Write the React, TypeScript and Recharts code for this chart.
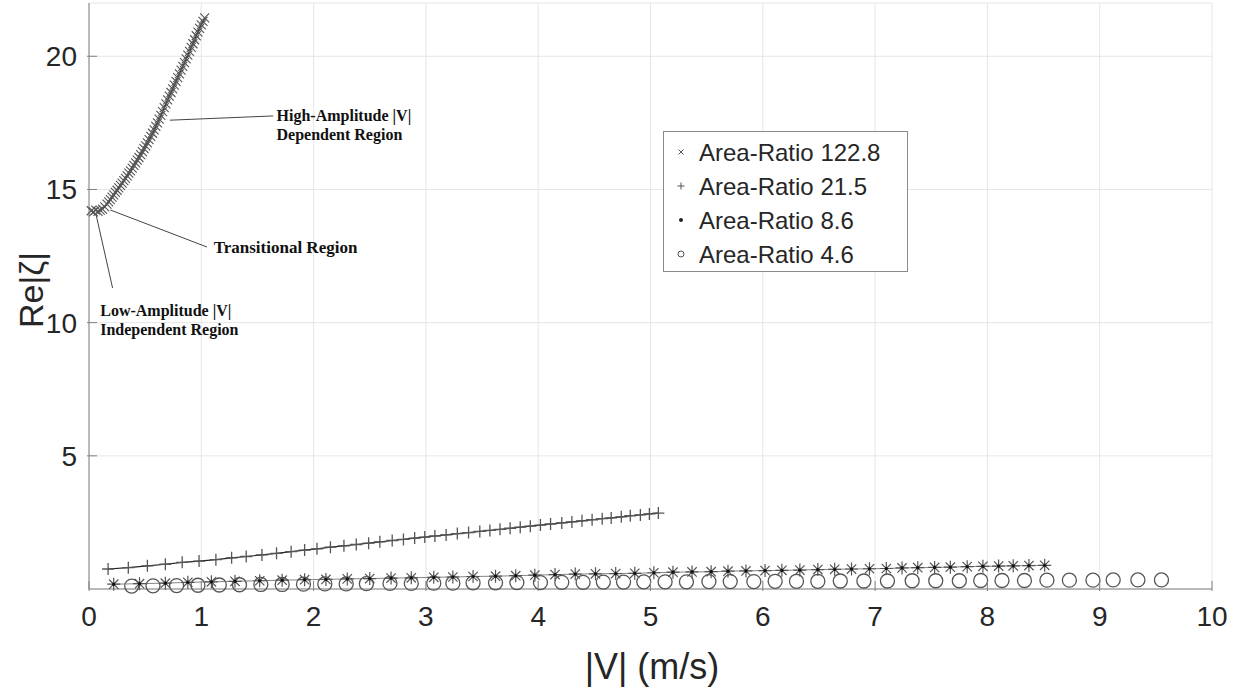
import { ScatterChart, Scatter, XAxis, YAxis, CartesianGrid, Legend, Label, ReferenceLine, ReferenceDot } from "recharts";

const speedTicks = [0, 1, 2, 3, 4, 5, 6, 7, 8, 9, 10];
const reTicks = [5, 10, 15, 20];

// Area-Ratio 122.8
const v1228 = [
  0.02, 0.04, 0.06, 0.08, 0.1, 0.12, 0.14,
  0.16, 0.175, 0.19, 0.205, 0.22, 0.235, 0.25, 0.265, 0.28, 0.295, 0.31, 0.325, 0.34, 0.355,
  0.37, 0.385, 0.4, 0.415, 0.43, 0.445, 0.46, 0.475, 0.49, 0.505, 0.52, 0.535, 0.55, 0.565,
  0.58, 0.595, 0.61, 0.625, 0.64, 0.655, 0.67, 0.685, 0.7, 0.715, 0.73, 0.745, 0.76, 0.775,
  0.79, 0.805, 0.82, 0.835, 0.85, 0.865, 0.88, 0.895, 0.91, 0.925, 0.94, 0.955, 0.97, 0.985,
  1.0, 1.015, 1.03,
];
const re1228 = [
  14.2, 14.16, 14.22, 14.18, 14.22, 14.26, 14.35,
  14.45, 14.53, 14.62, 14.71, 14.8, 14.89, 14.97, 15.06, 15.15, 15.24, 15.33, 15.42, 15.51, 15.61,
  15.7, 15.8, 15.9, 16.0, 16.1, 16.2, 16.31, 16.42, 16.53, 16.64, 16.75, 16.87, 16.99, 17.11,
  17.24, 17.37, 17.5, 17.64, 17.78, 17.92, 18.07, 18.21, 18.36, 18.5, 18.64, 18.78, 18.92, 19.06,
  19.2, 19.34, 19.48, 19.62, 19.76, 19.9, 20.04, 20.18, 20.33, 20.47, 20.62, 20.77, 20.91, 21.05,
  21.18, 21.31, 21.44,
];

// Area-Ratio 21.5
const v215 = [
  0.17, 0.35, 0.52, 0.68, 0.83, 0.98, 1.13, 1.27, 1.4, 1.54, 1.67, 1.8, 1.92, 2.03, 2.15, 2.27,
  2.38, 2.49, 2.59, 2.7, 2.8, 2.9, 2.99, 3.08, 3.18, 3.28, 3.38, 3.48, 3.57, 3.66, 3.75, 3.84,
  3.93, 4.02, 4.11, 4.21, 4.3, 4.39, 4.48, 4.57, 4.65, 4.74, 4.82, 4.91, 4.99, 5.07,
];
const re215 = [
  0.75, 0.8, 0.87, 0.93, 1.0, 1.05, 1.1, 1.17, 1.22, 1.28, 1.34, 1.4, 1.46, 1.51, 1.57, 1.62,
  1.67, 1.72, 1.77, 1.82, 1.86, 1.91, 1.95, 1.99, 2.03, 2.08, 2.12, 2.16, 2.2, 2.24, 2.28, 2.32,
  2.36, 2.4, 2.44, 2.48, 2.52, 2.56, 2.6, 2.64, 2.67, 2.71, 2.75, 2.78, 2.82, 2.85,
];

// Area-Ratio 8.6
const v86 = [
  0.22, 0.45, 0.68, 0.88, 1.09, 1.3, 1.52, 1.72, 1.92, 2.11, 2.3, 2.5, 2.69, 2.87, 3.07, 3.24,
  3.42, 3.62, 3.8, 3.97, 4.15, 4.33, 4.51, 4.69, 4.86, 5.03, 5.2, 5.37, 5.54, 5.69, 5.85, 6.02,
  6.17, 6.33, 6.49, 6.64, 6.79, 6.95, 7.1, 7.24, 7.38, 7.53, 7.67, 7.82, 7.96, 8.1, 8.23, 8.37,
  8.51,
];
const re86 = [
  0.18, 0.2, 0.22, 0.25, 0.27, 0.29, 0.31, 0.33, 0.35, 0.36, 0.38, 0.39, 0.41, 0.42, 0.44, 0.45,
  0.47, 0.48, 0.5, 0.52, 0.54, 0.56, 0.57, 0.58, 0.59, 0.61, 0.63, 0.64, 0.65, 0.67, 0.68, 0.69,
  0.7, 0.71, 0.73, 0.74, 0.75, 0.76, 0.77, 0.79, 0.8, 0.81, 0.82, 0.84, 0.85, 0.86, 0.87, 0.88,
  0.89,
];

// Area-Ratio 4.6
const v46 = [
  0.38, 0.57, 0.78, 0.97, 1.16, 1.34, 1.53, 1.72, 1.91, 2.1, 2.29, 2.47, 2.68, 2.87, 3.07, 3.24,
  3.42, 3.62, 3.81, 4.02, 4.21, 4.4, 4.58, 4.76, 4.94, 5.13, 5.32, 5.52, 5.71, 5.92, 6.11, 6.3,
  6.49, 6.69, 6.9, 7.11, 7.33, 7.54, 7.75, 7.94, 8.13, 8.33, 8.53, 8.73, 8.94, 9.12, 9.34, 9.55,
];
const re46 = [
  0.11, 0.12, 0.13, 0.14, 0.15, 0.16, 0.17, 0.17, 0.18, 0.19, 0.19, 0.2, 0.21, 0.21, 0.22, 0.22,
  0.23, 0.23, 0.24, 0.24, 0.25, 0.25, 0.26, 0.26, 0.27, 0.27, 0.27, 0.28, 0.28, 0.28, 0.29, 0.29,
  0.29, 0.3, 0.3, 0.3, 0.31, 0.31, 0.31, 0.32, 0.32, 0.32, 0.33, 0.33, 0.33, 0.34, 0.34, 0.34,
];

const seriesNames = ["Area-Ratio 122.8", "Area-Ratio 21.5", "Area-Ratio 8.6", "Area-Ratio 4.6"];

const toPoints = (v: number[], re: number[]) => v.map((x, i) => ({ x, y: re[i] }));

const SANS = "'Liberation Sans', Arial, sans-serif";
const SERIF = "'Liberation Serif', 'Times New Roman', serif";
const INK = "#262626";
const AXIS = "#808080";

// marker glyphs
const xMark = (cx: number, cy: number, r: number) =>
  `M${cx - r},${cy - r}L${cx + r},${cy + r}M${cx - r},${cy + r}L${cx + r},${cy - r}`;
const plusMark = (cx: number, cy: number, r: number) =>
  `M${cx - r},${cy}L${cx + r},${cy}M${cx},${cy - r}L${cx},${cy + r}`;
const starMark = (cx: number, cy: number, r: number) => {
  const d = r * 0.72;
  return `${plusMark(cx, cy, r)}M${cx - d},${cy - d}L${cx + d},${cy + d}M${cx - d},${cy + d}L${cx + d},${cy - d}`;
};

const XShape = (p: any) => <path d={xMark(p.cx, p.cy, 4.5)} stroke="#555" strokeWidth={1.1} fill="none" />;
const PlusShape = (p: any) => <path d={plusMark(p.cx, p.cy, 6)} stroke="#555" strokeWidth={1.3} fill="none" />;
const StarShape = (p: any) => (
  <g>
    <path d={starMark(p.cx, p.cy, 6.5)} stroke="#555" strokeWidth={1.2} fill="none" />
    <circle cx={p.cx} cy={p.cy} r={1.6} fill="#111" />
  </g>
);
const CircleShape = (p: any) => <circle cx={p.cx} cy={p.cy} r={7} stroke="#555" strokeWidth={1.3} fill="none" />;

const XTick = (p: any) => (
  <g>
    <line x1={p.x} y1={p.y} x2={p.x} y2={p.y - 10} stroke={AXIS} strokeWidth={1} />
    <text x={p.x} y={p.y + 35} textAnchor="middle" fontFamily={SANS} fontSize={28} fill={INK}>
      {p.payload.value}
    </text>
  </g>
);

const YTick = (p: any) => (
  <g>
    <line x1={p.x} y1={p.y} x2={p.x + 10} y2={p.y} stroke={AXIS} strokeWidth={1} />
    <text x={p.x - 10} y={p.y + 10} textAnchor="end" fontFamily={SANS} fontSize={28} fill={INK}>
      {p.payload.value}
    </text>
  </g>
);

const legendGlyphs = [
  (cx: number, cy: number) => <path d={xMark(cx, cy, 2.5)} stroke="#555" strokeWidth={1} />,
  (cx: number, cy: number) => <path d={plusMark(cx, cy, 3.5)} stroke="#555" strokeWidth={1} />,
  (cx: number, cy: number) => <circle cx={cx} cy={cy} r={2} fill="#222" />,
  (cx: number, cy: number) => <circle cx={cx} cy={cy} r={3} stroke="#555" strokeWidth={1} fill="none" />,
];

const LegendBox = () => (
  <svg width={245} height={141}>
    <rect x={0.5} y={0.5} width={244} height={140} fill="#fff" stroke="#8a8a8a" strokeWidth={1} />
    {seriesNames.map((name, i) => (
      <g key={name}>
        {legendGlyphs[i](18, 21 + i * 34)}
        <text x={36} y={30 + i * 34} fontFamily={SANS} fontSize={24} fill={INK}>
          {name}
        </text>
      </g>
    ))}
  </svg>
);

// bold serif callout text, anchored at a data point
const callout = (lines: string[], size: number) => (props: any) => {
  const { x, y } = props.viewBox;
  return (
    <text x={x} y={y} fontFamily={SERIF} fontWeight="bold" fontSize={size} fill="#111">
      {lines.map((l, i) => (
        <tspan key={l} x={x} dy={i === 0 ? 0 : 19}>
          {l}
        </tspan>
      ))}
    </text>
  );
};

export default function App() {
  return (
    <div style={{ position: "absolute", left: 0, top: 0 }}>
      <ScatterChart width={1239} height={689} margin={{ top: 3, right: 27, bottom: 0, left: 0 }}>
        <CartesianGrid stroke="#e6e6e6" strokeWidth={1} />
        <XAxis
          type="number"
          dataKey="x"
          domain={[0, 10]}
          ticks={speedTicks}
          height={100}
          tickSize={0}
          tickLine={false}
          tick={<XTick />}
          axisLine={{ stroke: AXIS }}
        >
          <Label
            content={(p: any) => (
              <text x={652} y={p.viewBox.y + 90} textAnchor="middle" fontFamily={SANS} fontSize={36} fill={INK}>
                |V| (m/s)
              </text>
            )}
          />
        </XAxis>
        <YAxis
          type="number"
          dataKey="y"
          domain={[0, 22]}
          ticks={reTicks}
          width={89}
          tickSize={0}
          tickLine={false}
          tick={<YTick />}
          axisLine={{ stroke: AXIS }}
        >
          <Label
            content={() => (
              <text
                x={0}
                y={0}
                transform="translate(43,290) rotate(-90)"
                textAnchor="middle"
                fontFamily={SANS}
                fontSize={34}
                fill={INK}
              >
                Re|ζ|
              </text>
            )}
          />
        </YAxis>
        <Legend
          layout="vertical"
          align="center"
          verticalAlign="middle"
          content={<LegendBox />}
          wrapperStyle={{ left: 663, top: 131, width: 245, height: 141 }}
        />

        <ReferenceLine segment={[{ x: 0.72, y: 17.6 }, { x: 1.64, y: 17.76 }]} stroke="#444" strokeWidth={1} />
        <ReferenceLine segment={[{ x: 0.19, y: 14.23 }, { x: 1.05, y: 12.84 }]} stroke="#444" strokeWidth={1} />
        <ReferenceLine segment={[{ x: 0.06, y: 14.11 }, { x: 0.21, y: 11.3 }]} stroke="#444" strokeWidth={1} />
        <ReferenceDot x={1.67} y={17.57} r={0} label={callout(["High-Amplitude |V|", "Dependent Region"], 16)} />
        <ReferenceDot x={1.11} y={12.61} r={0} label={callout(["Transitional Region"], 17)} />
        <ReferenceDot x={0.1} y={10.25} r={0} label={callout(["Low-Amplitude |V|", "Independent Region"], 16)} />

        <Scatter
          name={seriesNames[3]}
          data={toPoints(v46, re46)}
          shape={CircleShape}
          isAnimationActive={false}
        />
        <Scatter
          name={seriesNames[2]}
          data={toPoints(v86, re86)}
          shape={StarShape}
          line={{ stroke: "#666", strokeWidth: 0.8 }}
          isAnimationActive={false}
        />
        <Scatter
          name={seriesNames[1]}
          data={toPoints(v215, re215)}
          shape={PlusShape}
          line={{ stroke: "#222", strokeWidth: 1.2 }}
          isAnimationActive={false}
        />
        <Scatter
          name={seriesNames[0]}
          data={toPoints(v1228, re1228)}
          shape={XShape}
          line={{ stroke: "#222", strokeWidth: 1.2 }}
          isAnimationActive={false}
        />
      </ScatterChart>
    </div>
  );
}
